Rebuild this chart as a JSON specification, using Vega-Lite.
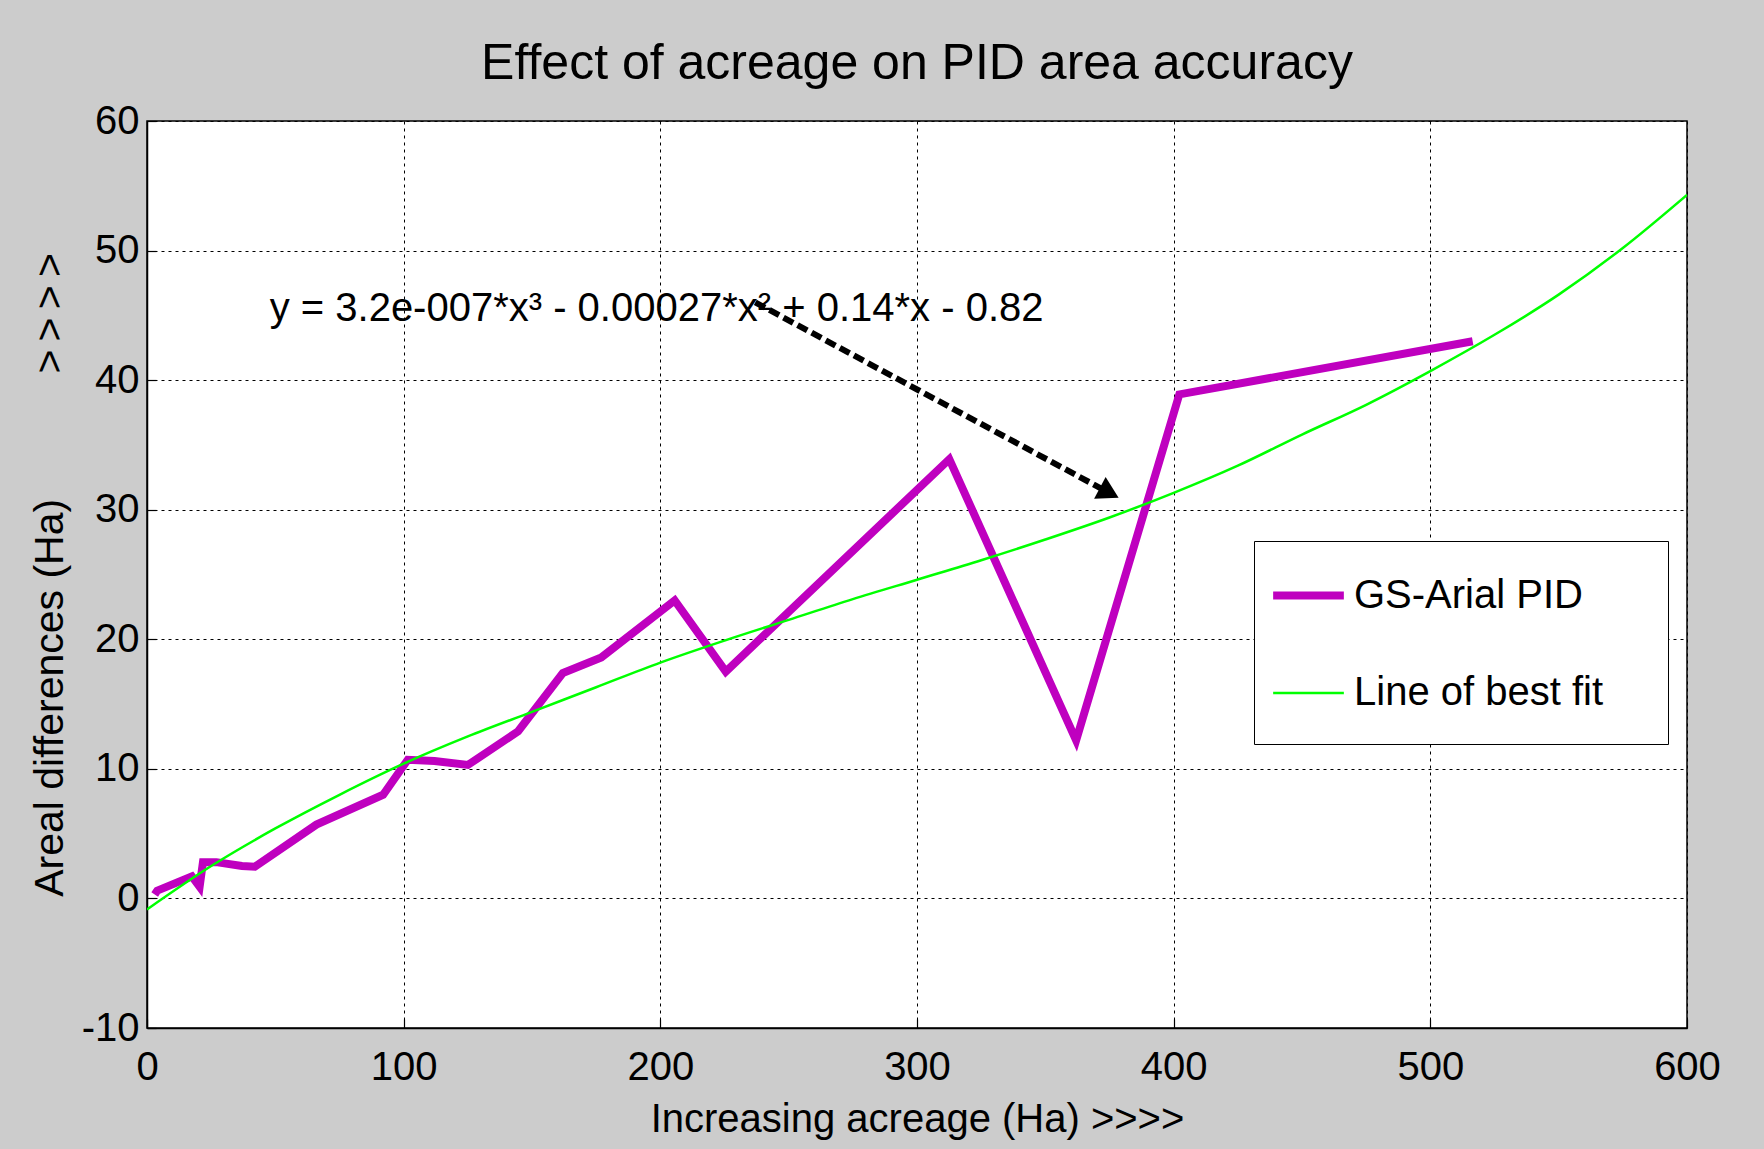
{
  "$schema": "https://vega.github.io/schema/vega-lite/v6.json",
  "width": 1540,
  "height": 907,
  "autosize": "none",
  "padding": {"left": 147, "top": 121, "right": 77, "bottom": 121},
  "background": "#cccccc",
  "config": {
    "font": "Liberation Sans",
    "view": {"fill": "white", "stroke": "black", "strokeWidth": 1.5},
    "axis": {
      "grid": true,
      "gridColor": "black",
      "gridDash": [3, 4],
      "gridWidth": 1,
      "gridOpacity": 1,
      "domainColor": "black",
      "domainWidth": 1.5,
      "tickColor": "black",
      "tickSize": -9,
      "tickWidth": 1.2,
      "labelColor": "black",
      "labelFontSize": 40,
      "labelFlush": false,
      "labelOverlap": false,
      "labelFont": "Liberation Sans",
      "titleFont": "Liberation Sans",
      "titleFontSize": 40,
      "titleFontWeight": "normal",
      "titleColor": "black"
    },
    "legend": {
      "labelFont": "Liberation Sans",
      "labelFontSize": 40,
      "labelColor": "black"
    }
  },
  "title": {
    "text": "Effect of acreage on PID area accuracy",
    "font": "Liberation Sans",
    "fontSize": 50,
    "fontWeight": "normal",
    "color": "black",
    "anchor": "middle",
    "frame": "group",
    "baseline": "bottom",
    "offset": 10,
    "dy": 48
  },
  "datasets": {
    "pid": [
      {"series": "GS-Arial PID", "x": 3, "y": 0.3},
      {"series": "GS-Arial PID", "x": 4, "y": 0.6},
      {"series": "GS-Arial PID", "x": 17.5, "y": 1.7},
      {"series": "GS-Arial PID", "x": 20.5, "y": 0.9},
      {"series": "GS-Arial PID", "x": 21.8, "y": 2.8},
      {"series": "GS-Arial PID", "x": 27, "y": 2.8},
      {"series": "GS-Arial PID", "x": 37, "y": 2.5},
      {"series": "GS-Arial PID", "x": 42, "y": 2.45},
      {"series": "GS-Arial PID", "x": 66, "y": 5.7},
      {"series": "GS-Arial PID", "x": 92, "y": 8.0},
      {"series": "GS-Arial PID", "x": 101.6, "y": 10.7},
      {"series": "GS-Arial PID", "x": 112, "y": 10.6},
      {"series": "GS-Arial PID", "x": 125, "y": 10.3},
      {"series": "GS-Arial PID", "x": 144.6, "y": 12.9},
      {"series": "GS-Arial PID", "x": 162, "y": 17.4},
      {"series": "GS-Arial PID", "x": 177, "y": 18.6},
      {"series": "GS-Arial PID", "x": 205.6, "y": 23.0},
      {"series": "GS-Arial PID", "x": 225.5, "y": 17.5},
      {"series": "GS-Arial PID", "x": 312.6, "y": 33.9},
      {"series": "GS-Arial PID", "x": 362, "y": 12.2},
      {"series": "GS-Arial PID", "x": 402.2, "y": 38.9},
      {"series": "GS-Arial PID", "x": 516.5, "y": 43.0}
    ],
    "fit": [
      {"series": "Line of best fit", "x": 0, "y": -0.85},
      {"series": "Line of best fit", "x": 25, "y": 2.5},
      {"series": "Line of best fit", "x": 50, "y": 5.4},
      {"series": "Line of best fit", "x": 75, "y": 8.0},
      {"series": "Line of best fit", "x": 100, "y": 10.4},
      {"series": "Line of best fit", "x": 125, "y": 12.5},
      {"series": "Line of best fit", "x": 150, "y": 14.4},
      {"series": "Line of best fit", "x": 175, "y": 16.3},
      {"series": "Line of best fit", "x": 200, "y": 18.2},
      {"series": "Line of best fit", "x": 225, "y": 19.9},
      {"series": "Line of best fit", "x": 250, "y": 21.5},
      {"series": "Line of best fit", "x": 275, "y": 23.1},
      {"series": "Line of best fit", "x": 300, "y": 24.6},
      {"series": "Line of best fit", "x": 325, "y": 26.1},
      {"series": "Line of best fit", "x": 350, "y": 27.7},
      {"series": "Line of best fit", "x": 375, "y": 29.4},
      {"series": "Line of best fit", "x": 400, "y": 31.3},
      {"series": "Line of best fit", "x": 425, "y": 33.4},
      {"series": "Line of best fit", "x": 450, "y": 35.8},
      {"series": "Line of best fit", "x": 475, "y": 38.1},
      {"series": "Line of best fit", "x": 500, "y": 40.7},
      {"series": "Line of best fit", "x": 525, "y": 43.5},
      {"series": "Line of best fit", "x": 550, "y": 46.6},
      {"series": "Line of best fit", "x": 575, "y": 50.2},
      {"series": "Line of best fit", "x": 600, "y": 54.3}
    ],
    "arrow": [
      {"x": 237, "y": 46.0, "x2": 374.9, "y2": 31.3, "hx": 374.9, "hy": 31.3}
    ],
    "note": [
      {"x": 47.8, "y": 44.6, "label": "y = 3.2e-007*x³ - 0.00027*x² + 0.14*x - 0.82"}
    ]
  },
  "layer": [
    {
      "data": {"name": "pid"},
      "mark": {"type": "line", "clip": true},
      "encoding": {
        "x": {
          "field": "x", "type": "quantitative",
          "scale": {"domain": [0, 600], "nice": false, "zero": false},
          "axis": {"values": [0, 100, 200, 300, 400, 500, 600], "title": "Increasing acreage (Ha) >>>>", "labelPadding": 28, "titlePadding": 12, "labelExpr": "'' + datum.value"}
        },
        "y": {
          "field": "y", "type": "quantitative",
          "scale": {"domain": [-10, 60], "nice": false, "zero": false},
          "axis": {"values": [-10, 0, 10, 20, 30, 40, 50, 60], "title": "Areal differences (Ha)\u00a0\u00a0\u00a0\u00a0\u00a0\u00a0\u00a0\u00a0\u00a0\u00a0\u00a0>\u2009>\u2009>\u2009>", "titleFontSize": 41, "labelPadding": 17, "titlePadding": 10, "labelExpr": "'' + datum.value"}
        },
        "color": {
          "field": "series", "type": "nominal",
          "scale": {"domain": ["GS-Arial PID", "Line of best fit"], "range": ["#bf00bf", "#00ff00"]},
          "legend": {
            "title": "_____________________________________________________",
            "titleColor": "white",
            "titleOrient": "bottom",
            "titleFontSize": 13,
            "titlePadding": 3,
            "titleLimit": 2000,
            "orient": "none",
            "legendX": 1107,
            "legendY": 420,
            "symbolType": "stroke",
            "symbolSize": 5000,
            "rowPadding": 40,
            "padding": 15,
            "labelOffset": 6,
            "labelLimit": 1000,
            "fillColor": "white",
            "strokeColor": "black"
          }
        },
        "strokeWidth": {
          "field": "series", "type": "nominal",
          "scale": {"domain": ["GS-Arial PID", "Line of best fit"], "range": [8, 2.5]},
          "legend": {
            "title": "_____________________________________________________",
            "titleColor": "white",
            "titleOrient": "bottom",
            "titleFontSize": 13,
            "titlePadding": 3,
            "titleLimit": 2000,
            "orient": "none",
            "legendX": 1107,
            "legendY": 420,
            "symbolType": "stroke",
            "symbolSize": 5000,
            "rowPadding": 40,
            "padding": 15,
            "labelOffset": 6,
            "labelLimit": 1000,
            "fillColor": "white",
            "strokeColor": "black"
          }
        }
      }
    },
    {
      "data": {"name": "fit"},
      "mark": {"type": "line", "clip": true, "interpolate": "monotone"},
      "encoding": {
        "x": {"field": "x", "type": "quantitative"},
        "y": {"field": "y", "type": "quantitative"},
        "color": {"field": "series", "type": "nominal"},
        "strokeWidth": {"field": "series", "type": "nominal"}
      }
    },
    {
      "data": {"name": "arrow"},
      "mark": {"type": "rule", "color": "black", "strokeWidth": 6, "strokeDash": [11, 5]},
      "encoding": {
        "x": {"field": "x", "type": "quantitative"},
        "y": {"field": "y", "type": "quantitative"},
        "x2": {"field": "x2"},
        "y2": {"field": "y2"}
      }
    },
    {
      "data": {"name": "arrow"},
      "mark": {"type": "point", "filled": true, "color": "black", "opacity": 1},
      "encoding": {
        "x": {"field": "hx", "type": "quantitative"},
        "y": {"field": "hy", "type": "quantitative"},
        "shape": {"value": "triangle-up"},
        "size": {"value": 600},
        "angle": {"value": 118}
      }
    },
    {
      "data": {"name": "note"},
      "mark": {"type": "text", "align": "left", "baseline": "alphabetic", "fontSize": 40, "color": "black"},
      "encoding": {
        "x": {"field": "x", "type": "quantitative"},
        "y": {"field": "y", "type": "quantitative"},
        "text": {"field": "label"}
      }
    }
  ]
}
